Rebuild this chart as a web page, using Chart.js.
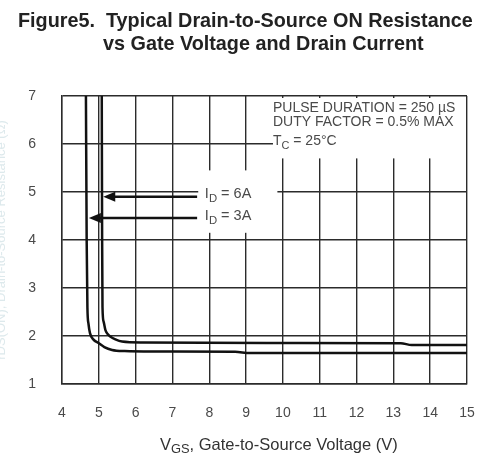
<!DOCTYPE html>
<html>
<head>
<meta charset="utf-8">
<script src="https://cdn.jsdelivr.net/npm/chart.js"></script>
<style>
html, body { margin: 0; padding: 0; background: #fff; }
#wrap { width: 487px; height: 464px; }
</style>
</head>
<body>
<div id="wrap"><canvas id="rds-chart" width="487" height="464"></canvas></div>
<script>
// Gate-to-source voltage (V) and on-resistance
const vgs3A = [4.65, 4.67, 4.69, 4.72, 4.76, 4.85, 5.0, 5.15, 5.36, 5.7, 6.5, 8.7, 9.1, 15];
const rds3A = [7.0, 4.0, 2.6, 2.25, 2.06, 1.93, 1.85, 1.77, 1.71, 1.685, 1.675, 1.67, 1.645, 1.645];

const vgs6A = [5.08, 5.09, 5.1, 5.13, 5.18, 5.24, 5.31, 5.45, 5.63, 6.2, 10, 13.2, 13.5, 15];
const rds6A = [7.0, 4.0, 2.6, 2.3, 2.12, 2.04, 1.99, 1.93, 1.885, 1.865, 1.855, 1.85, 1.81, 1.81];

const xTicks = [4, 5, 6, 7, 8, 9, 10, 11, 12, 13, 14, 15];
const yTicks = [1, 2, 3, 4, 5, 6, 7];

const titleLines = ['Figure5.  Typical Drain-to-Source ON Resistance', 'vs Gate Voltage and Drain Current'];
const testConditions = ['PULSE DURATION = 250 µS', 'DUTY FACTOR = 0.5% MAX'];

const GRID = '#2b2b2b';
const TEXT = '#4a4a4a';
const FONT = '"Liberation Sans", Arial, sans-serif';

function toPoints(xs, ys) {
    return xs.map((x, i) => ({ x: x, y: ys[i] }));
}

// draws "I" + subscript "D" + rest etc, left aligned, middle baseline
function drawSubText(ctx, parts, x, y, size) {
    ctx.textAlign = 'left';
    ctx.textBaseline = 'middle';
    parts.forEach(([txt, sub]) => {
        ctx.font = (sub ? size * 0.78 : size) + 'px ' + FONT;
        ctx.fillText(txt, x, sub ? y + size * 0.3 : y);
        x += ctx.measureText(txt).width;
    });
    return x;
}

function arrow(ctx, x0, x1, y) {
    ctx.strokeStyle = '#111';
    ctx.fillStyle = '#111';
    ctx.lineWidth = 2.5;
    ctx.beginPath();
    ctx.moveTo(x0, y);
    ctx.lineTo(x1 + 8, y);
    ctx.stroke();
    ctx.beginPath();
    ctx.moveTo(x1, y);
    ctx.lineTo(x1 + 12, y - 5);
    ctx.lineTo(x1 + 12, y + 5);
    ctx.closePath();
    ctx.fill();
}

const figureText = {
    id: 'figureText',
    beforeDatasetsDraw(chart) {
        const { ctx, scales: { x, y } } = chart;
        ctx.save();
        ctx.fillStyle = '#fff';
        // white panels behind the notes, they cut the grid
        ctx.fillRect(x.getPixelForValue(9.73), y.getPixelForValue(7) + 2,
            x.getPixelForValue(15) - x.getPixelForValue(9.73) - 1, y.getPixelForValue(5.7) - y.getPixelForValue(7) - 2);
        ctx.fillRect(x.getPixelForValue(7.7), y.getPixelForValue(5.45),
            x.getPixelForValue(9.85) - x.getPixelForValue(7.7), y.getPixelForValue(4.15) - y.getPixelForValue(5.45));
        ctx.restore();
    },
    afterDraw(chart) {
        const { ctx, scales: { x, y } } = chart;
        ctx.save();

        // title
        ctx.fillStyle = '#222';
        ctx.font = 'bold 19.8px ' + FONT;
        ctx.textAlign = 'left';
        ctx.textBaseline = 'middle';
        ctx.fillText(titleLines[0], 18, 22);
        ctx.fillText(titleLines[1], 103, 45);

        // test conditions
        ctx.fillStyle = TEXT;
        ctx.font = '14px ' + FONT;
        const cx = x.getPixelForValue(9.73);
        ctx.fillText(testConditions[0], cx, 108);
        ctx.fillText(testConditions[1], cx, 122.5);
        drawSubText(ctx, [['T', false], ['C', true], [' = 25°C', false]], cx, y.getPixelForValue(6.05), 14);

        // curve labels with arrows
        const tail = x.getPixelForValue(7.67);
        arrow(ctx, tail, x.getPixelForValue(5.12), y.getPixelForValue(4.9));
        arrow(ctx, tail, x.getPixelForValue(4.73), y.getPixelForValue(4.46));
        ctx.fillStyle = TEXT;
        drawSubText(ctx, [['I', false], ['D', true], [' = 6A', false]], x.getPixelForValue(7.88), y.getPixelForValue(4.95), 14.5);
        drawSubText(ctx, [['I', false], ['D', true], [' = 3A', false]], x.getPixelForValue(7.88), y.getPixelForValue(4.49), 14.5);

        // x axis title
        ctx.fillStyle = '#333';
        drawSubText(ctx, [['V', false], ['GS', true], [', Gate-to-Source Voltage (V)', false]], 160, 445, 16.5);

        // faint y axis title, mostly cut off at the left edge
        ctx.translate(1, 240);
        ctx.rotate(-Math.PI / 2);
        ctx.fillStyle = '#dde9ec';
        ctx.font = '13px ' + FONT;
        ctx.textAlign = 'center';
        ctx.fillText('rDS(ON), Drain-to-Source Resistance (Ω)', 0, 0);
        ctx.restore();
    }
};

const curveStyle = {
    showLine: true,
    borderColor: '#111',
    borderWidth: 2.5,
    pointRadius: 0,
    cubicInterpolationMode: 'monotone',
    fill: false
};

new Chart(document.getElementById('rds-chart'), {
    type: 'scatter',
    data: {
        datasets: [
            { ...curveStyle, label: 'ID = 3A', data: toPoints(vgs3A, rds3A) },
            { ...curveStyle, label: 'ID = 6A', data: toPoints(vgs6A, rds6A) }
        ]
    },
    options: {
        responsive: false,
        devicePixelRatio: 1,
        animation: false,
        layout: { padding: { left: 0, right: 20, top: 96, bottom: 0 } },
        plugins: {
            legend: { display: false },
            tooltip: { enabled: false },
            title: { display: false }
        },
        scales: {
            x: {
                type: 'linear',
                min: 4,
                max: 15,
                afterBuildTicks: s => { s.ticks = xTicks.map(v => ({ value: v })); },
                afterFit: s => { s.height = 80; s.paddingLeft = 0; s.paddingRight = 0; },
                grid: { color: GRID, lineWidth: 1.4, drawTicks: false },
                border: { color: GRID, width: 1.4 },
                ticks: { color: TEXT, padding: 21, font: { family: FONT, size: 14 }, maxRotation: 0 }
            },
            y: {
                type: 'linear',
                min: 1,
                max: 7,
                afterBuildTicks: s => { s.ticks = yTicks.map(v => ({ value: v })); },
                afterFit: s => { s.width = 62; s.paddingTop = 0; s.paddingBottom = 0; },
                grid: { color: GRID, lineWidth: 1.4, drawTicks: false },
                border: { color: GRID, width: 1.4 },
                ticks: { color: TEXT, padding: 26, font: { family: FONT, size: 14 } }
            }
        }
    },
    plugins: [figureText]
});
</script>
</body>
</html>
